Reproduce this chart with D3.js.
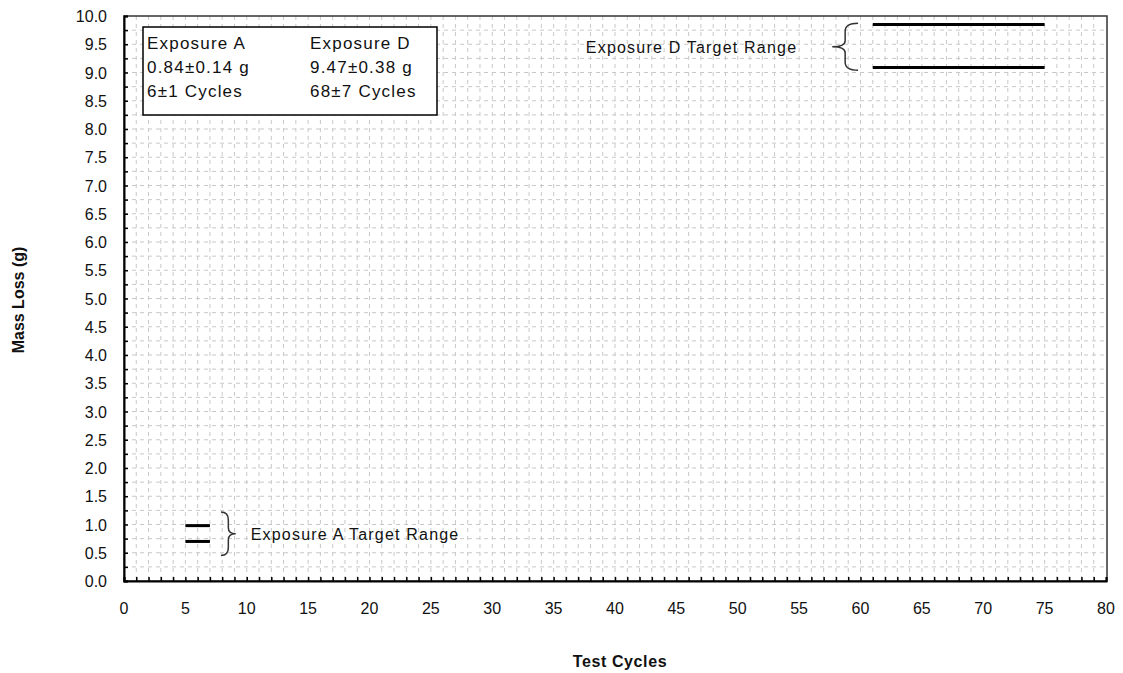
<!DOCTYPE html>
<html>
<head>
<meta charset="utf-8">
<script src="https://cdn.jsdelivr.net/npm/d3@7"></script>
<style>
  body { margin: 0; background: #fff; }
  text { font-family: "Liberation Sans", Arial, sans-serif; fill: #111; }
</style>
</head>
<body>
<svg id="chart" width="1123" height="673"></svg>
<script>
// axis ticks
var xTicks = d3.range(0, 81, 5);
var yTicks = d3.range(0, 10.01, 0.5);

// target ranges (mass loss in g, cycles)
var targetNames = ["Exposure A", "Exposure D"];
var targetMass = ["0.84\u00b10.14 g", "9.47\u00b10.38 g"];
var targetCycles = ["6\u00b11 Cycles", "68\u00b17 Cycles"];
var lineStart = [5, 61];
var lineEnd = [7, 75];
var lineLow = [0.70, 9.09];
var lineHigh = [0.98, 9.85];

// braces: x of back, x of tip, y span
var braceBack = [7.9, 59.8];
var braceTip = [9.1, 57.7];
var braceLow = [0.45, 9.04];
var braceHigh = [1.22, 9.87];
var braceLabel = ["Exposure A Target Range", "Exposure D Target Range"];

var svg = d3.select("#chart");
var plotL = 124, plotR = 1107, plotT = 16, plotB = 581;

var x = d3.scaleLinear().domain([0, 80]).range([plotL, plotR - 1]);
var y = d3.scaleLinear().domain([0, 10]).range([plotB, plotT]);

// grid
var grid = svg.append("g");
grid.selectAll("line.v")
    .data(d3.range(1, 80))
    .enter().append("line")
    .attr("x1", function (d) { return x(d); })
    .attr("x2", function (d) { return x(d); })
    .attr("y1", plotT).attr("y2", plotB)
    .attr("stroke", "#c8c8c8")
    .attr("stroke-dasharray", "4,4")
    .attr("stroke-width", 1);
grid.selectAll("line.h")
    .data(d3.range(1, 40).map(function (d) { return d * 0.25; }))
    .enter().append("line")
    .attr("y1", function (d) { return y(d); })
    .attr("y2", function (d) { return y(d); })
    .attr("x1", plotL).attr("x2", plotR)
    .attr("stroke", "#c8c8c8")
    .attr("stroke-dasharray", "4,4")
    .attr("stroke-width", 1);

// frame
svg.append("rect")
    .attr("x", plotL).attr("y", plotT)
    .attr("width", plotR - plotL).attr("height", plotB - plotT)
    .attr("fill", "none").attr("stroke", "#333").attr("stroke-width", 1.5);

// axes
var xAxis = d3.axisBottom(x).tickValues(d3.range(0, 81, 1))
    .tickSize(-4).tickFormat("");
var xg = svg.append("g").attr("transform", "translate(0," + plotB + ")").call(xAxis);
xg.select(".domain").attr("stroke", "#000").attr("stroke-width", 2);
xg.selectAll(".tick line").attr("stroke", "#000").attr("stroke-width", 1.5);

var yAxis = d3.axisLeft(y).tickValues(d3.range(0, 10.01, 0.25))
    .tickSize(-4).tickFormat("");
var yg = svg.append("g").attr("transform", "translate(" + plotL + ",0)").call(yAxis);
yg.select(".domain").attr("stroke", "#000").attr("stroke-width", 2);
yg.selectAll(".tick line").attr("stroke", "#000").attr("stroke-width", 1.5);

// tick labels
svg.append("g").selectAll("text")
    .data(xTicks)
    .enter().append("text")
    .attr("x", function (d) { return x(d); })
    .attr("y", plotB + 33)
    .attr("text-anchor", "middle")
    .attr("font-size", "16px")
    .text(function (d) { return d; });

svg.append("g").selectAll("text")
    .data(yTicks)
    .enter().append("text")
    .attr("x", plotL - 17)
    .attr("y", function (d) { return y(d) + 6; })
    .attr("text-anchor", "end")
    .attr("font-size", "16px")
    .text(function (d) { return d.toFixed(1); });

// axis titles
svg.append("text")
    .attr("x", 620).attr("y", 667)
    .attr("text-anchor", "middle")
    .attr("font-size", "16px").attr("font-weight", "bold")
    .attr("letter-spacing", "0.6px")
    .text("Test Cycles");
svg.append("text")
    .attr("transform", "translate(24,300) rotate(-90)")
    .attr("text-anchor", "middle")
    .attr("font-size", "16px").attr("font-weight", "bold")
    .text("Mass Loss (g)");

// target lines
var lines = svg.append("g");
targetNames.forEach(function (n, i) {
    [lineLow[i], lineHigh[i]].forEach(function (v) {
        lines.append("line")
            .attr("x1", x(lineStart[i])).attr("x2", x(lineEnd[i]))
            .attr("y1", y(v)).attr("y2", y(v))
            .attr("stroke", "#000").attr("stroke-width", 3);
    });
});

// curly braces
function bracePath(xb, xt, y1, y2) {
    var ym = (y1 + y2) / 2;
    var xc = (xb + xt) / 2;
    return "M" + xb + "," + y1 +
        " Q" + xc + "," + y1 + " " + xc + "," + (y1 + 8) +
        " L" + xc + "," + (ym - 6) +
        " Q" + xc + "," + ym + " " + xt + "," + ym +
        " Q" + xc + "," + ym + " " + xc + "," + (ym + 6) +
        " L" + xc + "," + (y2 - 8) +
        " Q" + xc + "," + y2 + " " + xb + "," + y2;
}
braceLabel.forEach(function (lab, i) {
    svg.append("path")
        .attr("d", bracePath(x(braceBack[i]), x(braceTip[i]), y(braceHigh[i]), y(braceLow[i])))
        .attr("fill", "none").attr("stroke", "#333").attr("stroke-width", 1.5);
});
svg.append("text")
    .attr("x", x(braceTip[0]) + 15).attr("y", y((braceLow[0] + braceHigh[0]) / 2) + 6)
    .attr("font-size", "16px").attr("letter-spacing", "1.2px")
    .text(braceLabel[0]);
svg.append("text")
    .attr("x", x(braceTip[1]) - 35).attr("y", y((braceLow[1] + braceHigh[1]) / 2) + 6)
    .attr("text-anchor", "end")
    .attr("font-size", "16px").attr("letter-spacing", "1.2px")
    .text(braceLabel[1]);

// summary box
var box = svg.append("g");
box.append("rect")
    .attr("x", 143).attr("y", 27).attr("width", 294).attr("height", 88)
    .attr("fill", "#fff").attr("stroke", "#000").attr("stroke-width", 1.5);
var colX = [147, 310];
targetNames.forEach(function (n, i) {
    [n, targetMass[i], targetCycles[i]].forEach(function (t, j) {
        box.append("text")
            .attr("x", colX[i]).attr("y", 49 + j * 24)
            .attr("font-size", "17px").attr("letter-spacing", "1.2px")
            .text(t);
    });
});
</script>
</body>
</html>
